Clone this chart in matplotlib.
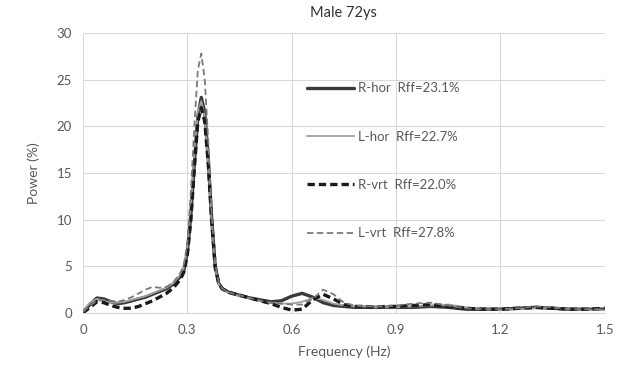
import matplotlib
matplotlib.use("Agg")
import matplotlib.pyplot as plt

plt.rcParams['font.family'] = ['Lato', 'DejaVu Sans']

# frequency grid (Hz), denser around the peak
freq = [0, 0.02, 0.04, 0.06, 0.08, 0.10, 0.12, 0.14, 0.16, 0.18, 0.20, 0.22, 0.24, 0.26, 0.28,
        0.29, 0.30, 0.31, 0.32, 0.33, 0.34, 0.35, 0.36, 0.37, 0.38, 0.39, 0.40,
        0.42, 0.45, 0.48, 0.51, 0.54, 0.57, 0.60, 0.63, 0.66, 0.69, 0.72, 0.75, 0.78, 0.81, 0.84, 0.87, 0.90,
        0.95, 1.00, 1.05, 1.10, 1.15, 1.20, 1.25, 1.30, 1.35, 1.40, 1.45, 1.50]

r_hor = [0.1, 0.9, 1.6, 1.5, 1.2, 1.0, 1.1, 1.3, 1.5, 1.7, 2.0, 2.3, 2.6, 3.1, 3.9,
         4.6, 6.5, 10.5, 16.0, 21.0, 23.1, 21.5, 16.5, 10.0, 5.0, 3.2, 2.6,
         2.2, 1.9, 1.6, 1.4, 1.2, 1.3, 1.8, 2.1, 1.7, 1.1, 0.8, 0.7, 0.6, 0.6, 0.6, 0.6, 0.6,
         0.6, 0.7, 0.6, 0.4, 0.4, 0.4, 0.5, 0.6, 0.5, 0.4, 0.4, 0.4]

l_hor = [0.2, 1.1, 1.5, 1.3, 1.1, 1.1, 1.2, 1.4, 1.6, 1.8, 2.1, 2.4, 2.7, 3.2, 4.1,
         4.9, 7.0, 11.5, 17.0, 21.5, 22.7, 21.0, 16.0, 9.5, 4.8, 3.1, 2.5,
         2.1, 1.8, 1.5, 1.3, 1.1, 1.0, 1.0, 1.2, 1.6, 1.4, 1.0, 0.8, 0.7, 0.7, 0.6, 0.6, 0.6,
         0.7, 0.8, 0.9, 0.6, 0.4, 0.3, 0.4, 0.5, 0.6, 0.4, 0.3, 0.3]

r_vrt = [0.0, 0.6, 1.2, 1.1, 0.8, 0.6, 0.5, 0.5, 0.7, 1.0, 1.3, 1.7, 2.1, 2.7, 3.6,
         4.4, 6.3, 10.0, 15.5, 20.5, 22.0, 20.5, 16.0, 9.8, 4.9, 3.2, 2.6,
         2.2, 1.9, 1.6, 1.3, 1.0, 0.6, 0.3, 0.4, 1.4, 2.0, 1.5, 0.9, 0.7, 0.7, 0.6, 0.7, 0.7,
         0.8, 0.9, 0.7, 0.5, 0.4, 0.4, 0.5, 0.6, 0.5, 0.4, 0.4, 0.5]

l_vrt = [0.1, 0.8, 1.3, 1.4, 1.3, 1.2, 1.4, 1.7, 2.1, 2.5, 2.8, 2.7, 2.8, 3.3, 4.3,
         5.2, 7.5, 13.0, 20.0, 26.0, 27.8, 25.0, 18.5, 10.5, 5.2, 3.3, 2.6,
         2.2, 1.9, 1.6, 1.3, 1.1, 1.0, 0.9, 0.9, 1.5, 2.5, 2.0, 1.1, 0.8, 0.7, 0.7, 0.7, 0.8,
         1.0, 1.1, 0.8, 0.5, 0.4, 0.4, 0.5, 0.7, 0.6, 0.4, 0.4, 0.4]

labels = ['R-hor  Rff=23.1%', 'L-hor  Rff=22.7%', 'R-vrt  Rff=22.0%', 'L-vrt  Rff=27.8%']
xticks = [0, 0.3, 0.6, 0.9, 1.2, 1.5]
yticks = [0, 5, 10, 15, 20, 25, 30]

txt = '#595959'

fig = plt.figure(figsize=(6.25, 3.73), dpi=100)
ax = fig.add_axes([0.1328, 0.161, 0.835, 0.7505])

ax.plot(freq, r_hor, color='#3a3a3a', lw=2.4, solid_capstyle='round', label=labels[0])
ax.plot(freq, l_hor, color='#a0a0a0', lw=1.3, label=labels[1])
ax.plot(freq, r_vrt, color='#1a1a1a', lw=2.4, ls=(0, (2.2, 1.2)), label=labels[2])
ax.plot(freq, l_vrt, color='#7a7a7a', lw=1.3, ls=(0, (3.5, 2)), label=labels[3])

ax.set_xlim(0, 1.5)
ax.set_ylim(0, 30)
ax.set_xticks(xticks)
ax.set_xticklabels(['0', '0.3', '0.6', '0.9', '1.2', '1.5'])
ax.set_yticks(yticks)
ax.grid(True, color='#d9d9d9', lw=0.8)
ax.set_axisbelow(True)
for s in ['top', 'right', 'left']:
    ax.spines[s].set_visible(False)
ax.spines['bottom'].set_color('#d9d9d9')
ax.tick_params(length=0, colors=txt, labelsize=9.5, pad=8)

ax.set_xlabel('Frequency (Hz)', color=txt, fontsize=10, labelpad=7)
ax.set_ylabel('Power (%)', color=txt, fontsize=10, labelpad=12)
fig.text(0.55, 0.966, 'Male 72ys', ha='center', va='center', color='#333333', fontsize=10.5)

leg = ax.legend(loc='upper left', bbox_to_anchor=(0.406, 0.866), frameon=False,
                handlelength=3.6, handletextpad=0.3, labelspacing=2.75, fontsize=9.5)
for t in leg.get_texts():
    t.set_color(txt)

fig.savefig('out.png', dpi=100)
